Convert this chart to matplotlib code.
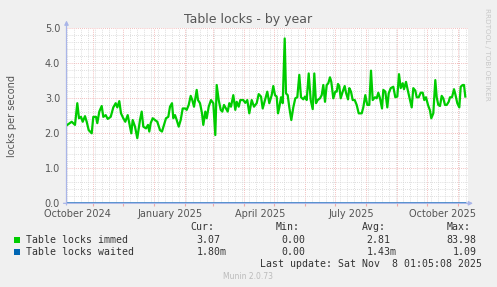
import numpy as np
import pandas as pd
import matplotlib
matplotlib.use("Agg")
import matplotlib.pyplot as plt
import matplotlib.dates as mdates
import matplotlib.transforms as mtransforms
from matplotlib.patches import Rectangle
from matplotlib.ticker import MultipleLocator

W, H = 497, 287

# time axis: days counted from this date
start = pd.Timestamp("2024-10-05")

immed_days = [
    1.0, 5.4, 8.7, 11.0, 12.7, 14.7, 16.4, 18.7, 20.4, 22.4, 25.4, 27.0, 29.7,
    31.0, 33.0, 35.4, 37.0, 39.4, 41.4, 44.4, 47.0, 49.4, 51.0, 53.0, 54.7,
    57.0, 59.0, 61.4, 63.0, 65.0, 66.4, 68.7, 71.0, 73.7, 75.4, 77.0, 79.7,
    81.7, 83.0, 84.4, 86.4, 88.7, 91.0, 93.7, 95.7, 97.7, 99.7, 102.0, 103.7,
    105.7, 107.0, 108.7, 110.4, 112.4, 114.4, 116.4, 118.7, 120.4, 122.4,
    124.4, 126.0, 127.7, 130.4, 131.7, 133.7, 135.7, 137.0, 139.0, 140.4,
    142.4, 144.7, 147.0, 149.0, 150.4, 152.4, 154.4, 156.0, 157.7, 159.7,
    161.4, 163.0, 164.7, 167.0, 169.0, 170.4, 172.4, 174.0, 177.0, 179.0,
    181.0, 183.0, 185.4, 187.7, 190.4, 192.4, 194.7, 196.4, 198.7, 201.0,
    203.0, 205.4, 207.0, 208.7, 210.4, 211.7, 213.0, 214.7, 216.4, 218.4,
    219.7, 221.4, 223.0, 225.0, 227.0, 229.0, 231.0, 233.0, 234.7, 237.0,
    238.7, 240.4, 242.4, 244.4, 246.4, 248.0, 249.7, 251.4, 253.7, 255.4,
    257.0, 258.7, 260.4, 262.0, 263.7, 265.0, 267.0, 269.0, 270.4, 271.7,
    273.0, 274.4, 276.4, 278.4, 279.7, 281.7, 283.0, 284.7, 286.4, 288.4,
    290.4, 292.4, 295.4, 297.0, 299.0, 301.0, 303.0, 304.7, 306.4, 308.7,
    310.4, 312.0, 313.7, 315.7, 317.0, 319.0, 321.0, 322.4, 324.4, 327.0,
    329.0, 331.0, 332.7, 334.4, 336.4, 337.7, 339.7, 341.4, 343.7, 345.4,
    347.0, 349.0, 350.4, 352.4, 354.4, 356.4, 358.0, 359.7, 361.7, 363.7,
    365.0, 367.0, 369.0, 370.4, 372.0, 373.7, 375.4, 377.0, 378.7, 380.4,
    382.4, 383.7, 385.7, 387.7, 389.0, 391.0, 393.0, 394.4, 396.4, 397.7,
    399.0,
]
immed_vals = [
    2.24, 2.33, 2.24, 2.86, 2.43, 2.47, 2.33, 2.49, 2.33, 2.09, 2.00, 2.47, 2.47,
    2.29, 2.62, 2.78, 2.47, 2.52, 2.41, 2.47, 2.74, 2.86, 2.74, 2.92, 2.57,
    2.43, 2.33, 2.52, 2.29, 2.00, 2.38, 2.19, 1.86, 2.38, 2.62, 2.19, 2.14,
    2.24, 2.05, 2.29, 2.43, 2.38, 2.33, 2.09, 2.05, 2.24, 2.43, 2.47, 2.76,
    2.86, 2.43, 2.52, 2.38, 2.19, 2.38, 2.71, 2.71, 2.67, 2.81,
    3.07, 2.95, 2.76, 3.24, 2.95, 2.86, 2.57, 2.24, 2.62, 2.43,
    2.76, 2.95, 2.86, 1.95, 3.38, 2.95, 2.67, 2.62, 2.81, 2.71,
    2.62, 2.86, 2.76, 3.09, 2.67, 2.90, 2.76, 2.95, 2.95, 2.87,
    2.95, 2.57, 2.95, 2.76, 2.86, 3.12, 3.05, 2.71, 2.95, 3.19,
    2.86, 3.09, 3.35, 3.09, 3.05, 2.57, 2.74, 3.03, 2.86, 4.71,
    3.14, 3.09, 2.74, 2.38, 2.74, 3.00, 3.03, 3.67, 3.03, 2.97,
    3.05, 2.95, 3.71, 2.95, 2.69, 3.71, 2.86, 2.95, 3.00, 3.09,
    3.38, 2.90, 3.38, 3.43, 3.60, 3.47, 3.00, 3.19, 3.19, 3.41,
    3.35, 3.00, 3.19, 3.35, 3.16, 2.97, 3.29, 3.19, 2.95, 2.95,
    2.81, 2.57, 2.57, 2.74, 3.09, 2.81, 2.81, 3.79, 2.95, 3.03,
    3.00, 3.16, 3.00, 2.71, 3.24, 3.19, 2.74, 3.14, 3.29, 3.33,
    3.03, 3.05, 3.69, 3.29, 3.43, 3.26, 3.47, 3.24, 2.95, 2.74,
    3.29, 3.22, 3.03, 3.03, 3.16, 3.16, 2.95, 3.03, 2.81, 2.65,
    2.43, 2.57, 3.52, 3.03, 2.81, 2.78, 3.07, 3.00, 2.81, 2.81,
    2.90, 3.03, 3.03, 3.26, 3.12, 2.86, 2.74, 3.33, 3.38, 3.38,
    3.05,
]
# the waited series stays flat on the zero line
waited_days = [1.0, 100.0, 200.0, 300.0, 399.0]
waited_vals = [0.001, 0.001, 0.002, 0.001, 0.002]

y_ticks = [0, 1, 2, 3, 4, 5]
y_tick_labels = ["0.0", "1.0", "2.0", "3.0", "4.0", "5.0"]
x_label_dates = ["2024-10-16 12:00", "2025-01-16 12:00", "2025-04-16 12:00",
                 "2025-07-16 12:00", "2025-10-16 12:00"]
x_label_text = ["October 2024", "January 2025", "April 2025", "July 2025",
                "October 2025"]

legend_names = ["Table locks immed", "Table locks waited"]
legend_colors = ["#00CC00", "#0066B3"]
stat_heads = ["Cur:", "Min:", "Avg:", "Max:"]
stat_rows = [["3.07", "0.00", "2.81", "83.98"],
             ["1.80m", "0.00", "1.43m", "1.09"]]


def fx(px):
    return px / W


def fy(py):
    return 1 - py / H


def main():
    fig = plt.figure(figsize=(W / 100, H / 100), dpi=100, facecolor="#F0F0F0")
    ax = fig.add_axes([fx(66.5), fy(203.3), (467.8 - 66.5) / W, (203.3 - 28.3) / H])
    ax.set_facecolor("white")

    d_immed = start + pd.to_timedelta(immed_days, unit="D")
    d_waited = start + pd.to_timedelta(waited_days, unit="D")

    ax.plot(d_waited, waited_vals, color=legend_colors[1], lw=1.5, zorder=3)
    ax.plot(d_immed, immed_vals, color=legend_colors[0], lw=1.6, zorder=4)

    ax.set_xlim(start + pd.Timedelta(days=0.2), start + pd.Timedelta(days=401.5))
    ax.set_ylim(0, 5)

    ax.xaxis.set_major_locator(mdates.MonthLocator())
    ax.xaxis.set_minor_locator(mdates.WeekdayLocator(byweekday=mdates.SU))
    ax.xaxis.set_major_formatter(plt.NullFormatter())
    ax.set_yticks(y_ticks)
    ax.set_yticklabels(y_tick_labels)
    ax.yaxis.set_minor_locator(MultipleLocator(0.2))

    ax.set_axisbelow(True)
    ax.grid(which="major", color="#EFA8A8", linestyle=(0, (1, 1.5)), lw=0.6)
    ax.grid(which="minor", color="#D4D4D4", linestyle=(0, (1, 1.5)), lw=0.6)
    ax.tick_params(axis="x", which="major", length=2, color="#EFA8A8", direction="out")
    ax.tick_params(axis="x", which="minor", length=0)
    ax.tick_params(axis="y", which="both", length=0, pad=4.6, labelsize=7,
                   labelcolor="#555555")
    for s in ax.spines.values():
        s.set_visible(False)

    tr = mtransforms.blended_transform_factory(ax.transData, fig.transFigure)
    for d, t in zip(x_label_dates, x_label_text):
        ax.text(pd.Timestamp(d), fy(209), t, transform=tr, ha="center",
                va="top", fontsize=7, color="#555555", clip_on=False)

    # axis arrows
    axis_col = "#A9B5E8"
    arrow = dict(arrowstyle="-|>", color=axis_col, lw=0.9,
                 mutation_scale=6, shrinkA=0, shrinkB=0)
    ax.annotate("", xy=(fx(66.5), fy(20.5)), xytext=(fx(66.5), fy(205)),
                xycoords="figure fraction", textcoords="figure fraction",
                arrowprops=arrow, annotation_clip=False)
    ax.annotate("", xy=(fx(473), fy(203.3)), xytext=(fx(63.5), fy(203.3)),
                xycoords="figure fraction", textcoords="figure fraction",
                arrowprops=arrow, annotation_clip=False)

    fig.text(fx(248), fy(19), "Table locks - by year", ha="center", va="center",
             fontsize=9, color="#555555")
    fig.text(fx(12), fy(116), "locks per second", rotation=90, ha="center",
             va="center", fontsize=7, color="#555555")
    fig.text(fx(487.5), fy(54), "RRDTOOL / TOBI OETIKER", rotation=270,
             ha="center", va="center", fontsize=5.2, color="#C8C8C8")

    mono = dict(family="DejaVu Sans Mono", fontsize=7.1, color="#333333")
    char_w = 5.96
    head_x = [190.7, 276.0, 361.7, 446.7]
    col_right = [220.5, 305.7, 390.7, 476.7]
    for x, h in zip(head_x, stat_heads):
        fig.text(fx(x), fy(227.5), h, ha="left", va="center", **mono)

    row_y = [240.0, 252.0]
    for yy, name, col, vals in zip(row_y, legend_names, legend_colors, stat_rows):
        fig.add_artist(Rectangle((fx(14), fy(yy + 2.8)), 5.5 / W, 5.5 / H,
                                 transform=fig.transFigure, facecolor=col,
                                 edgecolor="none"))
        fig.text(fx(26), fy(yy), name, ha="left", va="center", **mono)
        for xr, v in zip(col_right, vals):
            shift = char_w if v.endswith("m") else 0
            fig.text(fx(xr + shift), fy(yy), v, ha="right", va="center", **mono)

    fig.text(fx(482.5), fy(264), "Last update: Sat Nov  8 01:05:08 2025",
             ha="right", va="center", **mono)
    fig.text(fx(248), fy(276.5), "Munin 2.0.73", ha="center", va="center",
             fontsize=5.5, color="#BBBBBB")

    fig.savefig("out.png", dpi=100, facecolor=fig.get_facecolor())


if __name__ == "__main__":
    main()
